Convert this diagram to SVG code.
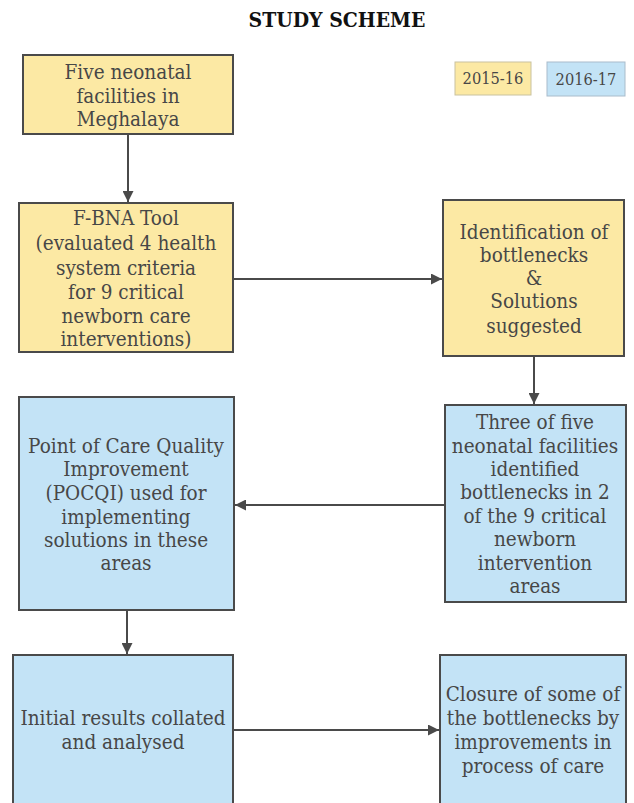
<svg xmlns="http://www.w3.org/2000/svg" width="634" height="803" viewBox="0 0 634 803">
<style>
.y{fill:#fce9a4;stroke:#4a4a4a;stroke-width:2}
.b{fill:#c3e3f6;stroke:#4a4a4a;stroke-width:2}
.ly{fill:#fce9a4;stroke:#c9c2a0;stroke-width:1}
.lb{fill:#c3e3f6;stroke:#a9bccb;stroke-width:1}
text{font-family:'DejaVu Serif Condensed','DejaVu Serif','Liberation Serif',serif;font-stretch:condensed;font-size:20.5px;fill:#474747;text-anchor:middle}
.t{font-weight:bold;font-size:21px;fill:#111}
.s{font-size:16.3px}
.c{stroke:#4a4a4a;stroke-width:2;fill:none;marker-end:url(#a)}
</style>
<defs>
<marker id="a" viewBox="0 0 10 10" refX="10" refY="5" markerWidth="5.5" markerHeight="5.5" orient="auto" markerUnits="strokeWidth">
<path d="M0,0L10,5L0,10z" fill="#4a4a4a"/>
</marker>
</defs>
<text class="t" x="337" y="27">STUDY SCHEME</text>
<g id="legend">
<rect class="ly" x="455" y="62" width="76" height="33"/>
<text class="s" x="493" y="84">2015-16</text>
<rect class="lb" x="547" y="62" width="78" height="34"/>
<text class="s" x="586" y="85">2016-17</text>
</g>
<g id="n1">
<rect class="y" x="23" y="55" width="210" height="79"/>
<text x="128" y="79">Five neonatal</text>
<text x="128" y="103">facilities in</text>
<text x="128" y="126">Meghalaya</text>
</g>
<g id="n2">
<rect class="y" x="19" y="203" width="214" height="149"/>
<text x="126" y="225">F-BNA Tool</text>
<text x="126" y="250">(evaluated 4 health</text>
<text x="126" y="275">system criteria</text>
<text x="126" y="299">for 9 critical</text>
<text x="126" y="323">newborn care</text>
<text x="126" y="346">interventions)</text>
</g>
<g id="n3">
<rect class="y" x="443" y="200" width="181" height="156"/>
<text x="534" y="239">Identification of</text>
<text x="534" y="262">bottlenecks</text>
<text x="534" y="285">&amp;</text>
<text x="534" y="308">Solutions</text>
<text x="534" y="333">suggested</text>
</g>
<g id="n4">
<rect class="b" x="445" y="405" width="181" height="197"/>
<text x="535" y="429">Three of five</text>
<text x="535" y="453">neonatal facilities</text>
<text x="535" y="476">identified</text>
<text x="535" y="499">bottlenecks in 2</text>
<text x="535" y="523">of the 9 critical</text>
<text x="535" y="546">newborn</text>
<text x="535" y="570">intervention</text>
<text x="535" y="593">areas</text>
</g>
<g id="n5">
<rect class="b" x="19" y="397" width="215" height="213"/>
<text x="126" y="453">Point of Care Quality</text>
<text x="126" y="476">Improvement</text>
<text x="126" y="500">(POCQI) used for</text>
<text x="126" y="524">implementing</text>
<text x="126" y="547">solutions in these</text>
<text x="126" y="570">areas</text>
</g>
<g id="n6">
<rect class="b" x="13" y="655" width="220" height="160"/>
<text x="123" y="725">Initial results collated</text>
<text x="123" y="749">and analysed</text>
</g>
<g id="n7">
<rect class="b" x="440" y="655" width="186" height="160"/>
<text x="533" y="701">Closure of some of</text>
<text x="533" y="725">the bottlenecks by</text>
<text x="533" y="749">improvements in</text>
<text x="533" y="773">process of care</text>
</g>
<g id="connectors">
<path class="c" d="M128,134V202"/>
<path class="c" d="M233,279H442"/>
<path class="c" d="M534,356V404"/>
<path class="c" d="M445,505H235"/>
<path class="c" d="M127,610V654"/>
<path class="c" d="M233,730H439"/>
</g>
</svg>
